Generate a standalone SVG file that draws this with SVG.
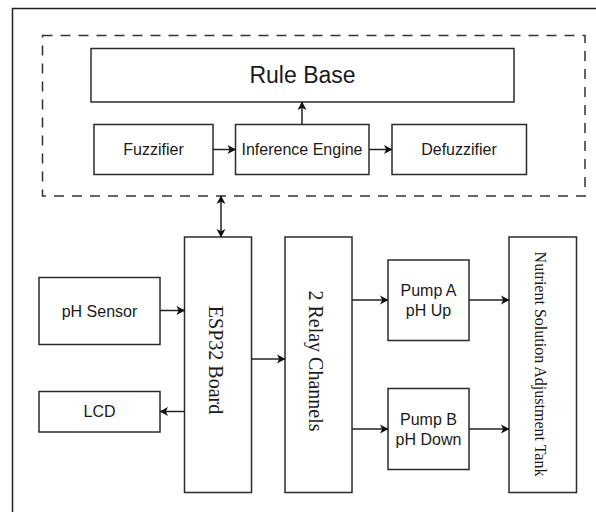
<svg xmlns="http://www.w3.org/2000/svg" width="596" height="512" viewBox="0 0 596 512">
<style>
.box{fill:#fff;stroke:#2b2b2b;stroke-width:1.5}
.dash{fill:none;stroke:#333;stroke-width:1.5;stroke-dasharray:10 8}
.frame{fill:none;stroke:#222;stroke-width:1.5}
.t{font-family:"Liberation Sans",Arial,sans-serif;font-size:16px;fill:#1a1a1a;text-anchor:middle}
.s{font-family:"Liberation Serif","Times New Roman",serif;font-size:20px;fill:#1a1a1a;text-anchor:middle}
.c{fill:none;stroke:#222;stroke-width:1.5}
</style>
<defs>
<marker id="ah" markerUnits="userSpaceOnUse" markerWidth="10" markerHeight="10" refX="8" refY="4.5" orient="auto" overflow="visible">
<path d="M0,0 L8.5,4.5 L0,9 L2.2,4.5 Z" fill="#111"/>
</marker>
<marker id="as" markerUnits="userSpaceOnUse" markerWidth="10" markerHeight="10" refX="0.5" refY="4.5" orient="auto" overflow="visible">
<path d="M8.5,0 L0,4.5 L8.5,9 L6.3,4.5 Z" fill="#111"/>
</marker>
</defs>
<rect width="596" height="512" fill="#fff"/>
<path class="frame" d="M12.5,512 V8.5 H596"/>
<rect id="fuzzy-block" class="dash" x="42.5" y="35.5" width="542.5" height="160.5"/>
<g id="rule-base"><rect class="box" x="91" y="48.5" width="423" height="53.5"/><text class="t" x="302.5" y="83" style="font-size:23px">Rule Base</text></g>
<g id="fuzzifier"><rect class="box" x="94" y="124.5" width="119" height="50"/><text class="t" x="153.5" y="155">Fuzzifier</text></g>
<g id="inference"><rect class="box" x="235.5" y="124.5" width="133.5" height="50"/><text class="t" x="302" y="155">Inference Engine</text></g>
<g id="defuzzifier"><rect class="box" x="392" y="124.5" width="134.5" height="50"/><text class="t" x="459" y="155">Defuzzifier</text></g>
<g id="esp32"><rect class="box" x="184.5" y="237" width="67" height="255.5"/><text class="s" transform="translate(215.5,360) rotate(90)" x="0" y="7">ESP32 Board</text></g>
<g id="ph-sensor"><rect class="box" x="39" y="277.5" width="121" height="67"/><text class="t" x="99.5" y="316.5">pH Sensor</text></g>
<g id="lcd"><rect class="box" x="39" y="391.5" width="121" height="40.5"/><text class="t" x="99.5" y="417">LCD</text></g>
<g id="relay"><rect class="box" x="285" y="237" width="67" height="255.5"/><text class="s" transform="translate(316,361) rotate(90)" x="0" y="7">2 Relay Channels</text></g>
<g id="pump-a"><rect class="box" x="388" y="260" width="81" height="80.5"/><text class="t" x="428.5" y="296">Pump A</text><text class="t" x="428.5" y="315.5">pH Up</text></g>
<g id="pump-b"><rect class="box" x="388" y="388.5" width="81" height="81"/><text class="t" x="428.5" y="425">Pump B</text><text class="t" x="428.5" y="445">pH Down</text></g>
<g id="tank"><rect class="box" x="509" y="237" width="67.5" height="255.5"/><text class="s" transform="translate(540,364) rotate(90)" x="0" y="5.5" style="font-size:16px">Nutrient Solution Adjustment Tank</text></g>
<g id="connectors">
<path class="c" d="M302,124.5 V102" marker-end="url(#ah)"/>
<path class="c" d="M213,149.5 H235.5" marker-end="url(#ah)"/>
<path class="c" d="M369,149.5 H392" marker-end="url(#ah)"/>
<path class="c" d="M221,196 V237" marker-start="url(#as)" marker-end="url(#ah)"/>
<path class="c" d="M160,310.5 H184.5" marker-end="url(#ah)"/>
<path class="c" d="M184.5,411.5 H160" marker-end="url(#ah)"/>
<path class="c" d="M251.5,359 H285" marker-end="url(#ah)"/>
<path class="c" d="M352,300 H388" marker-end="url(#ah)"/>
<path class="c" d="M469,300 H509" marker-end="url(#ah)"/>
<path class="c" d="M352,429 H388" marker-end="url(#ah)"/>
<path class="c" d="M469,429 H509" marker-end="url(#ah)"/>
</g>
</svg>
